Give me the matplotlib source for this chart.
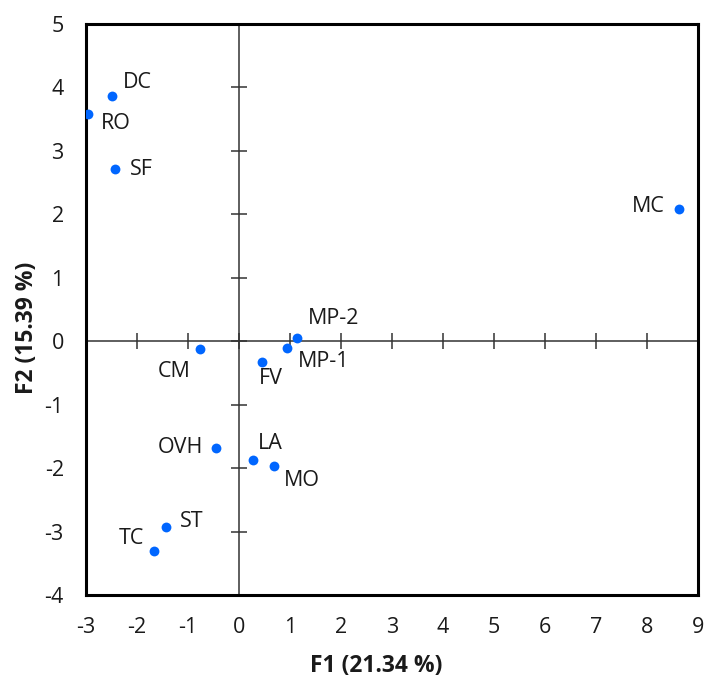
import matplotlib
matplotlib.use("Agg")
from matplotlib import pyplot as plt
import numpy as np

plt.rcParams['font.family'] = ['Open Sans', 'DejaVu Sans']
plt.rcParams['axes.unicode_minus'] = False

## DATA ##
labels = ["DC", "RO", "SF", "MC", "MP-2", "MP-1", "CM", "FV",
          "OVH", "LA", "MO", "ST", "TC"]
f1 = [-2.49, -2.96, -2.44, 8.63, 1.13, 0.94, -0.76, 0.45,
      -0.46, 0.27, 0.68, -1.43, -1.67]
f2 = [3.86, 3.58, 2.71, 2.08, 0.05, -0.10, -0.13, -0.33,
      -1.69, -1.88, -1.97, -2.93, -3.31]

xticks = np.arange(-3, 10)
yticks = np.arange(-4, 6)

# label placement (offset in points, horizontal alignment)
label_pos = {
    "DC": ((8, 10), 'left'),
    "RO": ((9, -7), 'left'),
    "SF": ((11, 0), 'left'),
    "MC": ((-10, 2), 'right'),
    "MP-2": ((8, 14), 'left'),
    "MP-1": ((8, -10), 'left'),
    "CM": ((-7, -16), 'right'),
    "FV": ((-2, -12), 'left'),
    "OVH": ((-9, 1), 'right'),
    "LA": ((4, 12), 'left'),
    "MO": ((7, -10), 'left'),
    "ST": ((10, 4), 'left'),
    "TC": ((-7, 9), 'right'),
}

## PLOT ##
fig = plt.figure(figsize=(7.07, 6.77), dpi=100)
ax = fig.add_axes([86 / 707, 82 / 677, 612 / 707, 571 / 677])

ax.scatter(f1, f2, s=50, color='#0066ff', zorder=5, linewidths=0)
for name, x, y in zip(labels, f1, f2):
    off, ha = label_pos[name]
    ax.annotate(name, (x, y), xytext=off, textcoords='offset points',
                ha=ha, va='center', fontsize=15.5, color='#1a1a1a')

ax.set_xlim(-3, 9)
ax.set_ylim(-4, 5)
ax.set_xticks(xticks)
ax.set_yticks(yticks)
ax.tick_params(length=0, labelsize=15.5, labelcolor='#1a1a1a')
ax.tick_params(axis='x', pad=16)
ax.tick_params(axis='y', pad=16)
for sp in ax.spines.values():
    sp.set_linewidth(2.2)
    sp.set_color('black')

# zero lines with cross ticks
sx = ax.secondary_xaxis(4 / 9)
sx.set_xticks(xticks)
sx.tick_params(direction='inout', length=12, width=1.1, color='#333333',
               labelbottom=False, labeltop=False)
sx.spines['bottom'].set_color('#333333')
sx.spines['bottom'].set_linewidth(1.1)
sx.spines['top'].set_visible(False)

sy = ax.secondary_yaxis(3 / 12)
sy.set_yticks(yticks)
sy.tick_params(direction='inout', length=12, width=1.1, color='#333333',
               labelleft=False, labelright=False)
sy.spines['left'].set_color('#333333')
sy.spines['left'].set_linewidth(1.1)
sy.spines['right'].set_visible(False)

ax.set_xlabel("F1 (21.34 %)", fontsize=16.5, fontweight='bold',
              color='#1a1a1a', va='center')
ax.set_ylabel("F2 (15.39 %)", fontsize=16.5, fontweight='bold',
              color='#1a1a1a', va='center')
ax.xaxis.set_label_coords(0.474, -0.124)
ax.yaxis.set_label_coords(-0.096, 0.468)

fig.savefig("out.png", dpi=100)
